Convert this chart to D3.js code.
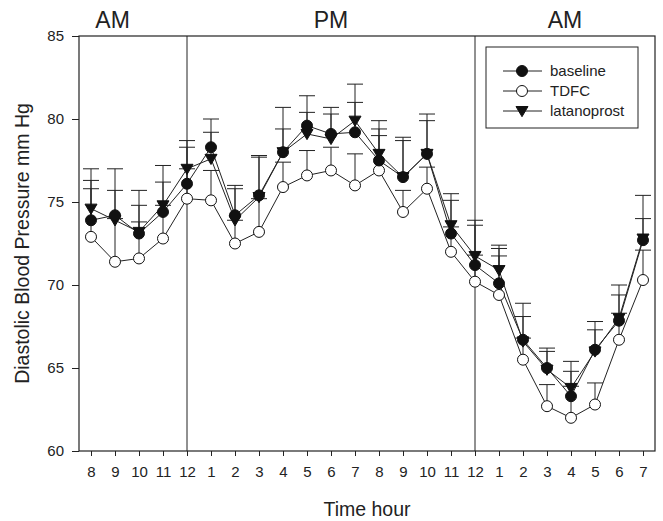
<!DOCTYPE html>
<html>
<head>
<meta charset="utf-8">
<script src="https://cdn.jsdelivr.net/npm/d3@7"></script>
<style>
  body { margin: 0; background: #fff; }
  svg { display: block; font-family: "Liberation Sans", Arial, sans-serif; }
</style>
</head>
<body>
<div id="chart"></div>
<script>
// tick labels along the x axis (one per hour, 8 AM to 7 AM)
const hours = ['8', '9', '10', '11', '12', '1', '2', '3', '4', '5', '6', '7',
               '8', '9', '10', '11', '12', '1', '2', '3', '4', '5', '6', '7'];
const yTicks = [60, 65, 70, 75, 80, 85];

// diastolic BP means (mm Hg)
const baseline = [73.9, 74.2, 73.1, 74.4, 76.1, 78.3, 74.2, 75.4, 78.0, 79.6, 79.1, 79.2,
                  77.5, 76.5, 77.9, 73.1, 71.2, 70.1, 66.7, 65.0, 63.3, 66.1, 67.85, 72.7];
const tdfc = [72.9, 71.4, 71.6, 72.8, 75.2, 75.1, 72.5, 73.2, 75.9, 76.6, 76.9, 76.0,
              76.9, 74.4, 75.8, 72.0, 70.2, 69.4, 65.5, 62.7, 62.0, 62.8, 66.7, 70.3];
const latanoprost = [74.6, 73.9, 73.2, 74.8, 77.0, 77.6, 73.9, 75.3, 78.0, 79.1, 78.8, 79.9,
                     77.9, 76.5, 77.9, 73.6, 71.75, 70.9, 66.6, 64.9, 63.8, 66.0, 68.0, 72.8];

// upper error bars
const baselineErr = [2.4, 2.8, 2.6, 1.8, 2.2, 1.7, 1.6, 2.3, 2.7, 1.8, 1.6, 1.8,
                     1.9, 2.4, 2.4, 2.0, 2.4, 2.1, 2.2, 1.2, 2.1, 1.7, 2.15, 2.7];
const tdfcErr = [2.9, 2.6, 2.2, 2.0, 1.8, 1.8, 1.4, 2.0, 1.5, 1.5, 1.4, 1.9,
                 2.1, 1.3, 1.3, 1.5, 1.6, 2.35, 1.3, 1.3, 1.9, 1.3, 1.6, 1.8];
const latanoprostErr = [2.4, 1.8, 1.6, 2.4, 1.7, 1.6, 2.1, 2.5, 1.4, 1.3, 1.5, 2.2,
                        2.0, 2.2, 2.0, 1.9, 2.15, 1.5, 1.5, 1.1, 1.0, 1.3, 1.4, 1.2];

// period labels above the plot, at x index positions
const periods = [{ label: 'AM', at: 0.9 }, { label: 'PM', at: 10 }, { label: 'AM', at: 19.75 }];
const dividers = [4, 16];

const width = 663, height = 521;
const margin = { top: 36, right: 8, bottom: 70, left: 79 };

const svg = d3.select('#chart').append('svg')
    .attr('width', width)
    .attr('height', height);

const x = d3.scaleLinear()
    .domain([-0.5, hours.length - 0.5])
    .range([margin.left, width - margin.right]);

const y = d3.scaleLinear()
    .domain([60, 85])
    .range([height - margin.bottom, margin.top]);

// x axis
svg.append('g')
    .attr('transform', `translate(0,${y(60)})`)
    .call(d3.axisBottom(x).tickValues(d3.range(hours.length)).tickFormat(i => hours[i])
        .tickSize(5).tickPadding(10))
    .call(g => g.select('.domain').remove())
    .call(g => g.selectAll('text').attr('font-size', 15).attr('fill', '#222')
        .attr('font-family', '"Liberation Sans", Arial, sans-serif'))
    .call(g => g.selectAll('line').attr('stroke', '#222'));

// y axis
svg.append('g')
    .attr('transform', `translate(${x(-0.5)},0)`)
    .call(d3.axisLeft(y).tickValues(yTicks).tickSize(7).tickPadding(8))
    .call(g => g.select('.domain').remove())
    .call(g => g.selectAll('text').attr('font-size', 15).attr('fill', '#222')
        .attr('font-family', '"Liberation Sans", Arial, sans-serif'))
    .call(g => g.selectAll('line').attr('stroke', '#222'));

// frame
svg.append('rect')
    .attr('x', x(-0.5))
    .attr('y', y(85))
    .attr('width', x(hours.length - 0.5) - x(-0.5))
    .attr('height', y(60) - y(85))
    .attr('fill', 'none')
    .attr('stroke', '#222')
    .attr('stroke-width', 1.2);

// AM / PM dividers
svg.selectAll('line.divider')
    .data(dividers)
    .enter().append('line')
    .attr('class', 'divider')
    .attr('x1', d => x(d)).attr('x2', d => x(d))
    .attr('y1', y(85)).attr('y2', y(60))
    .attr('stroke', '#222')
    .attr('stroke-width', 1);

svg.selectAll('text.period')
    .data(periods)
    .enter().append('text')
    .attr('class', 'period')
    .attr('x', d => x(d.at))
    .attr('y', 28)
    .attr('text-anchor', 'middle')
    .attr('font-size', 23)
    .attr('fill', '#222')
    .text(d => d.label);

// axis titles
svg.append('text')
    .attr('x', (x(-0.5) + x(hours.length - 0.5)) / 2)
    .attr('y', 516)
    .attr('text-anchor', 'middle')
    .attr('font-size', 19.5)
    .attr('fill', '#222')
    .text('Time hour');

svg.append('text')
    .attr('transform', `translate(29,${(y(60) + y(85)) / 2}) rotate(-90)`)
    .attr('text-anchor', 'middle')
    .attr('font-size', 19.5)
    .attr('fill', '#222')
    .text('Diastolic Blood Pressure mm Hg');

const series = [
    { name: 'TDFC', values: tdfc, err: tdfcErr, shape: 'circle', fill: '#fff' },
    { name: 'latanoprost', values: latanoprost, err: latanoprostErr, shape: 'triangle', fill: '#111' },
    { name: 'baseline', values: baseline, err: baselineErr, shape: 'circle', fill: '#111' }
];

const circleSym = d3.symbol().type(d3.symbolCircle).size(95);
function triPath(size) {
    // downward pointing triangle
    const s = size;
    return `M${-s},${-s * 0.75}L${s},${-s * 0.75}L0,${s * 0.95}Z`;
}

function drawMarker(g, shape, fill) {
    if (shape === 'circle') {
        g.append('path').attr('d', circleSym()).attr('fill', fill)
            .attr('stroke', '#111').attr('stroke-width', 1);
    } else {
        g.append('path').attr('d', triPath(6)).attr('fill', fill)
            .attr('stroke', '#111').attr('stroke-width', 1);
    }
}

const line = d3.line()
    .x((d, i) => x(i))
    .y(d => y(d));

// error bars (upper only) first
series.forEach(s => {
    const eg = svg.append('g');
    s.values.forEach((v, i) => {
        eg.append('line')
            .attr('x1', x(i)).attr('x2', x(i))
            .attr('y1', y(v)).attr('y2', y(v + s.err[i]))
            .attr('stroke', '#222').attr('stroke-width', 1);
        eg.append('line')
            .attr('x1', x(i) - 8).attr('x2', x(i) + 8)
            .attr('y1', y(v + s.err[i])).attr('y2', y(v + s.err[i]))
            .attr('stroke', '#222').attr('stroke-width', 1);
    });
});

// lines
series.forEach(s => {
    svg.append('path')
        .datum(s.values)
        .attr('d', line)
        .attr('fill', 'none')
        .attr('stroke', '#222')
        .attr('stroke-width', 1);
});

// markers
series.forEach(s => {
    svg.append('g').selectAll('g')
        .data(s.values)
        .enter().append('g')
        .attr('transform', (d, i) => `translate(${x(i)},${y(d)})`)
        .each(function () { drawMarker(d3.select(this), s.shape, s.fill); });
});

// legend
const legendItems = [series[2], series[0], series[1]];
const legend = svg.append('g').attr('transform', 'translate(486,47)');
legend.append('rect')
    .attr('width', 152).attr('height', 81)
    .attr('fill', '#fff').attr('stroke', '#222').attr('stroke-width', 1);
legendItems.forEach((s, i) => {
    const row = legend.append('g').attr('transform', `translate(0,${24 + i * 20})`);
    row.append('line').attr('x1', 17).attr('x2', 56).attr('stroke', '#222');
    const m = row.append('g').attr('transform', 'translate(36,0)');
    drawMarker(m, s.shape, s.fill);
    row.append('text')
        .attr('x', 64).attr('y', 5)
        .attr('font-size', 15)
        .attr('fill', '#222')
        .text(s.name);
});
</script>
</body>
</html>
